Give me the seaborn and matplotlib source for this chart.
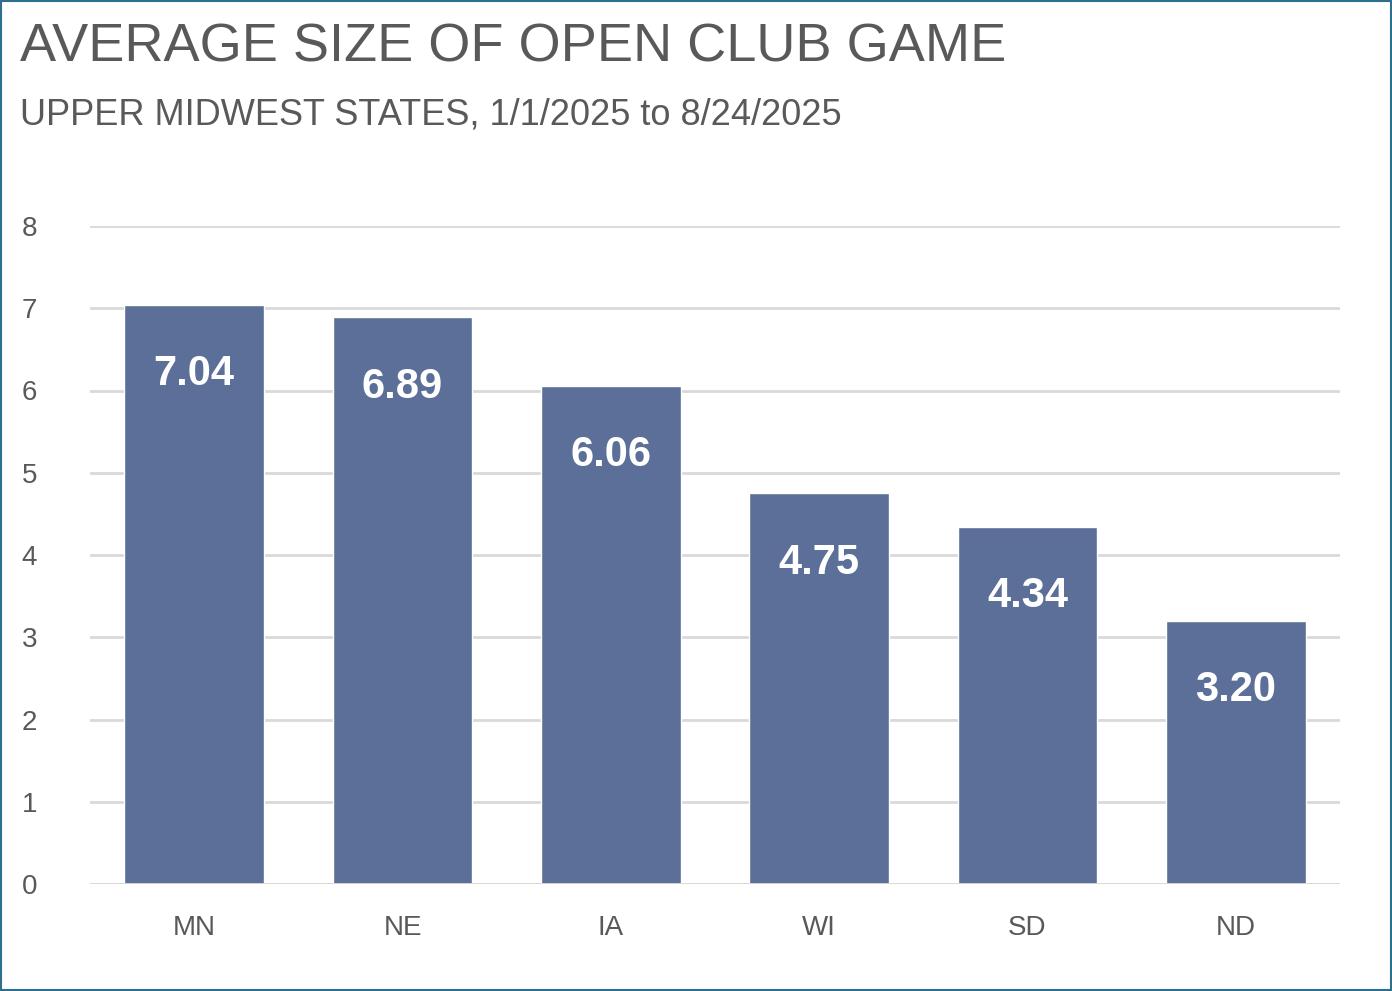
import matplotlib
matplotlib.use("Agg")
import matplotlib.pyplot as plt
import seaborn as sns
import pandas as pd

states = ["MN", "NE", "IA", "WI", "SD", "ND"]
avg_size = [7.04, 6.89, 6.06, 4.75, 4.34, 3.20]

sns.set_style("white")
plt.rcParams['font.family'] = ['Liberation Sans', 'DejaVu Sans']

df = pd.DataFrame({"State": states, "Size": avg_size})

fig = plt.figure(figsize=(13.92, 9.91), dpi=100)
ax = fig.add_axes([90/1392, 1 - 884/991, 1250/1392, (884-226)/991])
sns.barplot(x="State", y="Size", data=df, color="#5b6f99", saturation=1, width=0.67, ax=ax, zorder=3)

ax.set_ylim(0, 8)
ax.set_xlim(-0.5, 5.5)
ax.set_yticks(range(0, 9))
ax.yaxis.grid(True, color="#d9d9d9", linewidth=2, zorder=0)
for s in ax.spines.values():
    s.set_visible(False)
ax.axhline(0, color="#d9d9d9", linewidth=2, zorder=4)
ax.tick_params(axis="both", length=0, labelsize=20, colors="#595959")
ax.tick_params(axis="x", pad=22)
ax.tick_params(axis="y", pad=38)
ax.set_xlabel("")
ax.set_ylabel("")

for i, v in enumerate(avg_size):
    ax.annotate(f"{v:.2f}", (i, v), xytext=(0, -50), textcoords="offset points",
                ha="center", va="center", fontsize=30, fontweight="bold", color="white", zorder=5)

fig.text(20/1392, 1 - 47/991, "AVERAGE SIZE OF OPEN CLUB GAME", fontsize=39, color="#595959", va="center")
fig.text(20/1392, 1 - 115/991, "UPPER MIDWEST STATES, 1/1/2025 to 8/24/2025", fontsize=26, color="#595959", va="center")

fig.patches.append(plt.Rectangle((0.001, 0.001), 0.998, 0.998, transform=fig.transFigure,
                                 fill=False, edgecolor="#2e6e8e", linewidth=1.5))

fig.savefig("out.png", dpi=100)
